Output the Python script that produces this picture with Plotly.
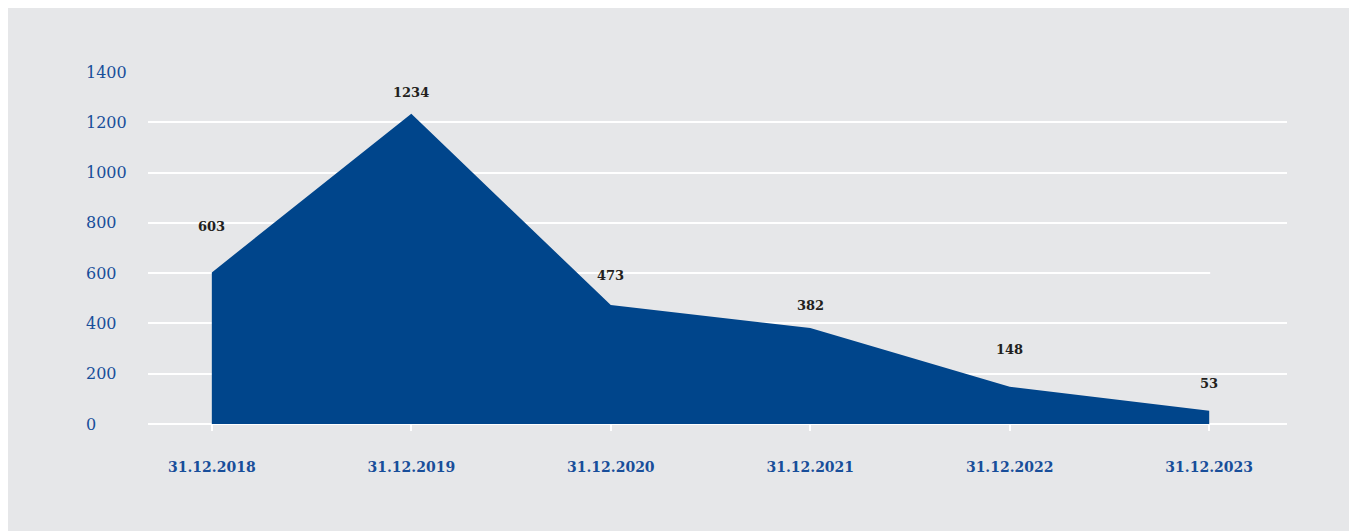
import plotly.graph_objects as go

categories = ["31.12.2018", "31.12.2019", "31.12.2020", "31.12.2021", "31.12.2022", "31.12.2023"]
values = [603, 1234, 473, 382, 148, 53]
y_ticks = [0, 200, 400, 600, 800, 1000, 1200, 1400]
label_offsets = [46, 21, 30, 22, 37, 27]  # px above point for value labels

BG = "rgb(230,231,233)"
FILL = "rgb(0,69,139)"
BLUE = "rgb(24,78,154)"
DARK = "rgb(35,31,32)"
FONT = "DejaVu Serif"

W, H = 1357, 531
ML, MR, MT, MB = 140, 78, 64, 115
PW = W - ML - MR
PH = H - MT - MB

x_idx = list(range(len(categories)))

fig = go.Figure()
fig.add_trace(go.Scatter(
    x=x_idx, y=values, mode="lines", fill="tozeroy",
    fillcolor=FILL, line=dict(width=0, color=FILL),
    hoverinfo="skip", showlegend=False,
))

annotations = []
for i, v in enumerate(values):
    annotations.append(dict(
        x=i, y=v, xref="x", yref="y", text=str(v), showarrow=False,
        yshift=label_offsets[i], font=dict(family=FONT, size=13, color=DARK, weight="bold"),
    ))
for t in y_ticks:
    annotations.append(dict(
        x=(76 - ML) / PW, y=t, xref="paper", yref="y", text=str(t), showarrow=False,
        xanchor="left", yanchor="middle", font=dict(family=FONT, size=16, color=BLUE),
    ))

fig.update_layout(
    width=W, height=H,
    margin=dict(l=ML, r=MR, t=MT, b=MB),
    paper_bgcolor=BG, plot_bgcolor=BG,
    showlegend=False,
    annotations=annotations,
    shapes=[dict(
        type="line", xref="x", yref="y", layer="above",
        x0=x_idx[-1] + 0.005, x1=5.5, y0=y_ticks[3], y1=y_ticks[3],
        line=dict(color=BG, width=4),
    )],
    xaxis=dict(
        range=[-0.32, 5.39], tickmode="array", tickvals=x_idx, ticktext=categories,
        showgrid=False, zeroline=False, showline=False,
        ticks="outside", ticklen=6, tickwidth=2, tickcolor="white",
        ticklabelstandoff=24,
        tickfont=dict(family=FONT, size=14, color=BLUE, weight="bold"),
    ),
    yaxis=dict(
        range=[0, 1400], tickmode="array", tickvals=y_ticks,
        showticklabels=False, showgrid=True, gridcolor="white", gridwidth=2,
        zeroline=True, zerolinecolor="white", zerolinewidth=2, showline=False,
    ),
)

fig.write_html("out.html")
